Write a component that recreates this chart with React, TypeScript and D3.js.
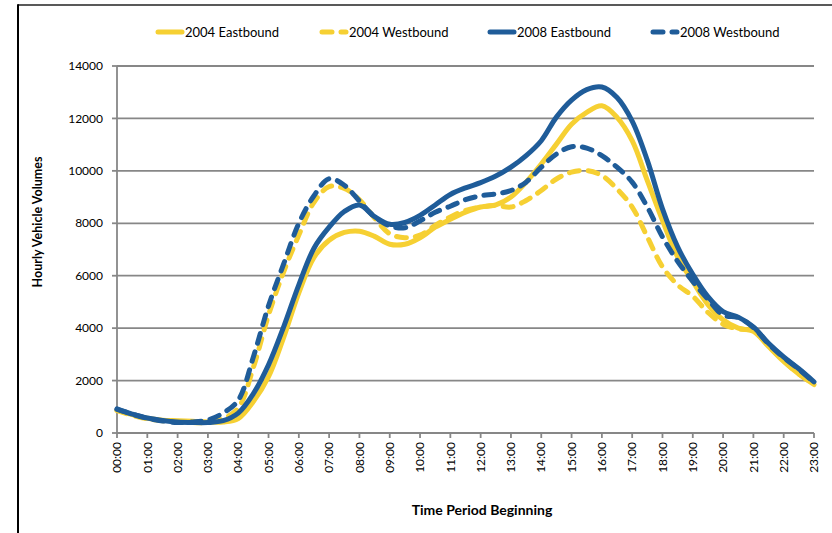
import React from "react";
import * as d3 from "d3";

const hours = [0, 0.5, 1, 1.5, 2, 2.5, 3, 3.5, 4, 4.5, 5, 5.5, 6, 6.5, 7, 7.5, 8, 8.5, 9, 9.5, 10, 10.5, 11, 11.5, 12, 12.5, 13, 13.5, 14, 14.5, 15, 15.5, 16, 16.5, 17, 17.5, 18, 18.5, 19, 19.5, 20, 20.5, 21, 21.5, 22, 22.5, 23];

const eastbound2004 = [880, 700, 560, 490, 470, 450, 420, 420, 550, 1200, 2150, 3650, 5350, 6700, 7350, 7650, 7700, 7500, 7200, 7200, 7450, 7850, 8150, 8420, 8620, 8700, 9000, 9570, 10260, 11020, 11780, 12230, 12480, 12040, 11150, 9630, 8110, 6720, 5780, 4900, 4320, 4000, 3880, 3300, 2730, 2250, 1850];
const westbound2004 = [850, 680, 540, 470, 430, 400, 400, 550, 950, 2500, 4500, 6150, 7550, 8800, 9400, 9330, 8900, 8200, 7600, 7450, 7550, 7920, 8240, 8490, 8620, 8680, 8620, 8870, 9250, 9690, 9950, 10010, 9820, 9310, 8620, 7480, 6340, 5650, 5220, 4600, 4150, 3970, 3900, 3320, 2750, 2250, 1870];
const eastbound2008 = [900, 720, 570, 480, 420, 400, 400, 470, 760, 1500, 2600, 4050, 5650, 7050, 7850, 8450, 8700, 8250, 7960, 8030, 8300, 8700, 9100, 9350, 9550, 9800, 10140, 10580, 11150, 12050, 12700, 13100, 13200, 12800, 11900, 10400, 8550, 7100, 6050, 5200, 4630, 4420, 4050, 3420, 2900, 2450, 1950];
const westbound2008 = [920, 720, 560, 460, 400, 420, 500, 760, 1250, 2900, 4850, 6450, 8000, 9050, 9700, 9450, 8850, 8250, 7900, 7830, 8090, 8420, 8650, 8900, 9050, 9120, 9250, 9570, 10140, 10640, 10920, 10870, 10580, 10140, 9570, 8620, 7480, 6550, 5780, 5100, 4500, 4400, 4020, 3400, 2880, 2430, 1930];

const seriesNames = ["2004 Eastbound", "2004 Westbound", "2008 Eastbound", "2008 Westbound"];
const tickHours = [0, 1, 2, 3, 4, 5, 6, 7, 8, 9, 10, 11, 12, 13, 14, 15, 16, 17, 18, 19, 20, 21, 22, 23];
const tickLabels = ["00:00", "01:00", "02:00", "03:00", "04:00", "05:00", "06:00", "07:00", "08:00", "09:00", "10:00", "11:00", "12:00", "13:00", "14:00", "15:00", "16:00", "17:00", "18:00", "19:00", "20:00", "21:00", "22:00", "23:00"];
const yTicks = [0, 2000, 4000, 6000, 8000, 10000, 12000, 14000];

const YELLOW = "#F6D033";
const BLUE = "#1F5C99";
const GRID = "#878787";
const FONT = "Lato, 'Open Sans', sans-serif";

export default function App() {
  const W = 832, H = 533;
  const x = d3.scaleLinear().domain([0, 23]).range([117, 814]);
  const y = d3.scaleLinear().domain([0, 14000]).range([433, 66]);

  const series = [
    { name: seriesNames[0], values: eastbound2004, color: YELLOW, dashed: false },
    { name: seriesNames[1], values: westbound2004, color: YELLOW, dashed: true },
    { name: seriesNames[2], values: eastbound2008, color: BLUE, dashed: false },
    { name: seriesNames[3], values: westbound2008, color: BLUE, dashed: true },
  ];

  const line = d3
    .line<number>()
    .x((_, i) => x(hours[i]))
    .y((d) => y(d))
    .curve(d3.curveCatmullRom.alpha(0.5));

  const legendX = [156, 320, 488, 651];
  const legendY = 32;

  return (
    <svg width={W} height={H} style={{ position: "absolute", left: 0, top: 0, background: "#fff" }} fontFamily={FONT}>
      <rect x={0} y={0} width={W} height={H} fill="#fff" />
      {/* frame */}
      <line x1={18} y1={5} x2={W} y2={5} stroke="#222" strokeWidth={1.5} />
      <line x1={18} y1={4.25} x2={18} y2={H} stroke="#000" strokeWidth={2} />

      {/* gridlines */}
      {yTicks.map((t) => (
        <g key={t}>
          {t > 0 && <line x1={x(0)} x2={x(23)} y1={y(t)} y2={y(t)} stroke={GRID} strokeWidth={1.8} />}
          <line x1={x(0) - 5} x2={x(0)} y1={y(t)} y2={y(t)} stroke={GRID} strokeWidth={1.8} />
          <text x={103} y={y(t)} dy="0.35em" textAnchor="end" fontSize={12} fill="#000">
            {t}
          </text>
        </g>
      ))}
      {/* axes */}
      <line x1={x(0)} x2={x(0)} y1={y(14000)} y2={y(0)} stroke={GRID} strokeWidth={1.8} />
      <line x1={x(0)} x2={x(23)} y1={y(0)} y2={y(0)} stroke={GRID} strokeWidth={1.8} />
      {tickHours.map((h, i) => (
        <g key={h}>
          <line x1={x(h)} x2={x(h)} y1={y(0)} y2={y(0) + 5} stroke={GRID} strokeWidth={1.8} />
          <text
            transform={`translate(${x(h)},${442}) rotate(-90)`}
            textAnchor="end"
            dy="0.35em"
            fontSize={12}
            fill="#000"
          >
            {tickLabels[i]}
          </text>
        </g>
      ))}

      {/* series */}
      {series.map((s) => (
        <path
          key={s.name}
          d={line(s.values) || ""}
          fill="none"
          stroke={s.color}
          strokeWidth={5}
          strokeLinecap="round"
          strokeLinejoin="round"
          strokeDasharray={s.dashed ? "10 9" : undefined}
        />
      ))}

      {/* legend */}
      {series.map((s, i) => (
        <g key={s.name}>
          <line
            x1={legendX[i] + 2}
            x2={legendX[i] + 26}
            y1={legendY}
            y2={legendY}
            stroke={s.color}
            strokeWidth={5}
            strokeLinecap="round"
            strokeDasharray={s.dashed ? "10 9" : undefined}
          />
          <text x={legendX[i] + 29} y={legendY} dy="0.35em" fontSize={13} fill="#000">
            {s.name}
          </text>
        </g>
      ))}

      {/* axis titles */}
      <text
        transform={`translate(38,222) rotate(-90)`}
        textAnchor="middle"
        dy="0.35em"
        fontSize={12.5}
        fontWeight="bold"
        fill="#000"
      >
        Hourly Vehicle Volumes
      </text>
      <text x={482} y={510} textAnchor="middle" dy="0.35em" fontSize={14} fontWeight="bold" fill="#000">
        Time Period Beginning
      </text>
    </svg>
  );
}
